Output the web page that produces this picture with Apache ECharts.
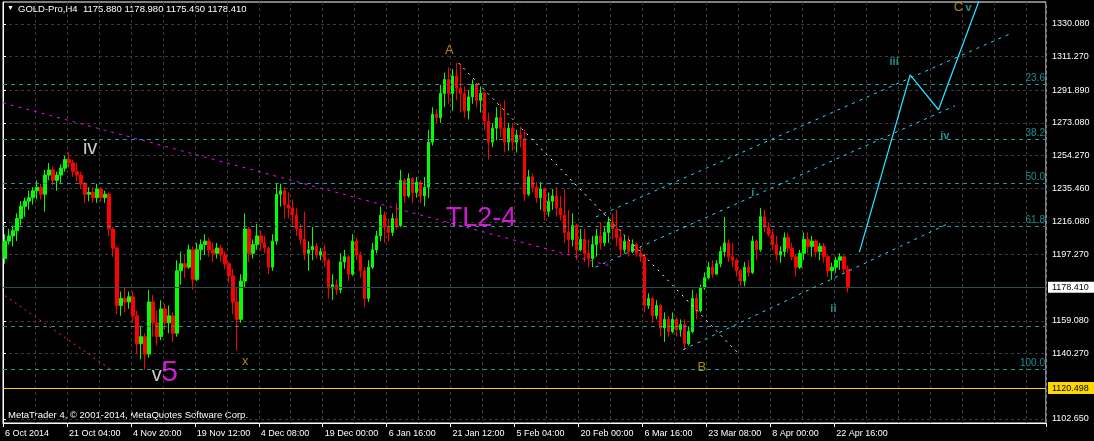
<!DOCTYPE html>
<html><head><meta charset="utf-8">
<script src="https://cdn.jsdelivr.net/npm/echarts@6/dist/echarts.min.js"></script>
<style>html,body{margin:0;padding:0;background:#000;}#c{width:1094px;height:441px;}</style>
</head><body><div id="c"></div><script>
// ---------- DATA ----------
const symbolTitle = 'GOLD-Pro,H4  1175.880 1178.980 1175.460 1178.410';
const copyrightText = 'MetaTrader 4, \u00A9 2001-2014, MetaQuotes Software Corp.';
const xTickLabels = ['6 Oct 2014','21 Oct 04:00','4 Nov 20:00','19 Nov 12:00','4 Dec 08:00','19 Dec 00:00','6 Jan 16:00','21 Jan 12:00','5 Feb 04:00','20 Feb 00:00','6 Mar 16:00','23 Mar 08:00','8 Apr 00:00','22 Apr 16:00'];
const yTicks = [1330.080,1311.270,1291.890,1273.080,1254.270,1235.460,1216.080,1197.270,1178.410,1159.080,1140.270,1120.498,1102.650];
const currentPrice = 1178.410;
const supportLevel = 1120.498;
// candles: [open, close, low, high], each = 4 H4 bars
const candles = [
[1195,1205,1192,1209],[1205,1208,1203,1212],[1208,1211,1202,1214],[1211,1218,1205,1221],[1218,1225,1214,1228],
[1225,1228,1219,1230],[1228,1230,1223,1234],[1230,1234,1226,1236],[1234,1236,1229,1240],[1236,1232,1229,1238],
[1232,1243,1222,1246],[1243,1246,1240,1250],[1246,1240,1237,1248],[1240,1243,1234,1245],[1243,1247,1238,1249],
[1247,1252,1245,1254],[1252,1250,1247,1256],[1250,1245,1242,1252],[1245,1243,1239,1250],[1243,1238,1235,1245],
[1238,1232,1227,1239],[1232,1233,1228,1236],[1233,1230,1227,1236],[1230,1235,1227,1238],[1235,1230,1228,1236],
[1230,1232,1227,1234],[1232,1212,1208,1233],[1212,1201,1196,1213],[1201,1168,1163,1202],[1168,1172,1162,1176],
[1172,1170,1164,1178],[1170,1173,1166,1176],[1173,1162,1158,1176],[1162,1146,1140,1165],[1146,1150,1137,1156],
[1150,1140,1131,1152],[1140,1170,1138,1177],[1170,1158,1150,1174],[1158,1150,1145,1165],[1150,1166,1148,1171],
[1166,1158,1154,1169],[1158,1162,1152,1168],[1162,1152,1147,1164],[1152,1188,1150,1194],[1188,1192,1180,1199],
[1192,1190,1184,1197],[1190,1200,1189,1203],[1200,1183,1177,1202],[1183,1200,1182,1204],[1200,1203,1194,1206],
[1203,1205,1197,1209],[1205,1200,1196,1207],[1200,1198,1193,1204],[1198,1201,1195,1204],[1201,1197,1193,1203],
[1197,1192,1189,1199],[1192,1185,1181,1193],[1185,1170,1163,1189],[1170,1160,1142,1178],[1160,1182,1158,1186],
[1182,1212,1178,1221],[1212,1198,1193,1213],[1198,1203,1195,1206],[1203,1208,1200,1215],[1208,1204,1200,1211],
[1204,1201,1198,1208],[1201,1190,1186,1202],[1190,1205,1188,1209],[1205,1232,1203,1238],[1232,1234,1225,1238],
[1234,1226,1218,1236],[1226,1224,1218,1233],[1224,1220,1214,1229],[1220,1212,1208,1224],[1212,1206,1203,1215],
[1206,1198,1194,1222],[1198,1200,1188,1205],[1200,1202,1194,1213],[1202,1197,1195,1204],[1197,1199,1194,1201],
[1199,1194,1190,1203],[1194,1178,1172,1195],[1178,1180,1171,1186],[1180,1177,1174,1183],[1177,1193,1175,1198],
[1193,1196,1189,1200],[1196,1186,1182,1197],[1186,1205,1185,1209],[1205,1197,1194,1207],[1197,1188,1184,1199],
[1188,1172,1167,1190],[1172,1190,1170,1194],[1190,1200,1189,1204],[1200,1208,1198,1211],[1208,1220,1205,1225],
[1220,1213,1204,1222],[1213,1210,1205,1218],[1210,1218,1208,1221],[1218,1214,1211.6,1227],[1214,1240,1213,1246],
[1240,1231,1227,1241],[1231,1241,1230,1244],[1241,1233,1227,1242],[1233,1239,1230,1242],[1239,1231,1227,1240],
[1231,1236,1225,1242],[1236,1262,1230,1269],[1262,1278,1260,1282],[1278,1276,1273,1281],[1276,1290,1273,1295],
[1290,1298,1282,1302],[1298,1290,1284,1305],[1290,1300,1280,1304],[1300,1293,1286,1307.6],[1293,1290,1279,1307],
[1290,1280,1276,1294],[1280,1288,1275,1292],[1288,1295,1284,1298],[1295,1286,1282,1296],[1286,1290,1279,1294],
[1290,1274,1269,1291],[1274,1262,1252,1279],[1262,1270,1259,1273],[1270,1276,1263,1282],[1276,1270,1265,1284],
[1270,1262,1256,1286],[1262,1270,1257,1273],[1270,1262,1257,1273],[1262,1266,1256,1269],[1266,1264,1259,1271],
[1264,1232,1228,1269],[1232,1242,1231,1246],[1242,1236,1233,1244],[1236,1230,1227,1239],[1230,1235,1223,1239],
[1235,1222,1217,1235.5],[1222,1228,1219,1233],[1228,1231,1223,1235],[1231,1224,1219,1236],[1224,1220,1217,1231],
[1220,1210,1204,1235],[1210,1206,1198,1223],[1206,1214,1202,1221],[1214,1200,1194,1215],[1200,1206,1199,1212],
[1206,1198,1193,1212],[1198,1195,1190,1206],[1195,1203,1190,1208],[1203,1208,1196,1212],[1208,1204,1200,1216],
[1204,1210,1202,1213],[1210,1216,1204,1219],[1216,1212,1206,1221],[1212,1207,1202,1223],[1207,1200,1196,1212],
[1200,1205,1198,1208],[1205,1199,1196,1208],[1199,1203,1198,1206],[1203,1198,1196,1204],[1198,1196,1193,1202],
[1196,1168,1164,1198],[1168,1172,1166,1175],[1172,1162,1158,1173],[1162,1168,1160,1171],[1168,1155,1150,1169],
[1155,1160,1147,1164],[1160,1153,1150,1162],[1153,1160,1152,1164],[1160,1154,1150,1161],[1154,1157,1150,1160],
[1157,1146,1142.5,1160],[1146,1153,1145,1156],[1153,1172,1152,1177],[1172,1165,1160,1175],[1165,1178,1164,1180],
[1178,1184,1177,1187],[1184,1190,1183,1193],[1190,1186,1184,1194],[1186,1192,1186,1194],[1192,1199,1190,1202],
[1199,1204,1196,1219],[1204,1196,1193,1206],[1196,1194,1190,1204],[1194,1188,1184.5,1195],[1188,1182,1179,1189],
[1182,1190,1179,1193],[1190,1187,1184.5,1194],[1187,1205,1186,1208],[1205,1200,1194,1206],[1200,1219,1199,1224],
[1219,1213,1210,1223],[1213,1209,1207.6,1216],[1209,1203,1200,1212],[1203,1197,1194,1208],[1197,1199,1192.6,1202],
[1199,1207,1196,1210],[1207,1201,1198,1210],[1201,1196,1194,1204],[1196,1190,1184.5,1197],[1190,1198,1189,1200],
[1198,1206,1194,1210],[1206,1202,1198,1210],[1202,1205,1196,1208],[1205,1199,1196,1206],[1199,1202,1194,1204],
[1202,1196,1192.6,1204],[1196,1188,1184.5,1197],[1188,1190,1182.8,1192.6],[1190,1194,1186.8,1196],[1194,1196,1188.5,1198],
[1196,1189,1186.8,1197],[1189,1178.41,1175.46,1191]
];
// drawn objects, [candle index, price]
const tl24Line      = [[0, 1284.6], [152.3, 1190.5]];
const redTrendLine  = [[0.5, 1173.6], [26.8, 1131.4]];
const abLine        = [[114, 1307.5], [183.9, 1140.6]];
const channelUpper  = [[148.4, 1218.9], [252.4, 1324.7]];
const channelMiddle = [[148.3, 1190.1], [238.2, 1282.9]];
const channelLower  = [[170.2, 1142.5], [236.8, 1215.4]];
const projection    = [[214.3, 1198.7], [227, 1300.7], [234.1, 1280.6], [246.2, 1355.4]];
const fibLabels = ['23.6','38.2','50.0','61.8','','100.0'];
const fibPrices = [1295.0, 1263.9, 1238.3, 1213.3, 1156.1, 1131.3];
// wave labels: [text, candle index, price]
const waveLabels = [
  ['iv', 21.8, 1258.5], ['v', 38.5, 1127.6], ['5', 41.7, 1129.0], ['x', 60.6, 1136.0],
  ['A', 111.7, 1314.8], ['TL2-4', 119.6, 1217.9], ['B', 174.9, 1132.6], ['i', 187.6, 1232.5],
  ['ii', 207.8, 1166.1], ['iii', 223.0, 1308.2], ['iv', 235.7, 1265.7], ['C', 239.1, 1339.3], ['v', 241.6, 1339.0]
];
const waveLabelKinds = ['white','white','magentaBig','gold','gold','magentaMid','gold','teal','teal','teal','teal','gold','teal'];

// ---------- STYLE ----------
const FONT = 'Liberation Sans, Arial, sans-serif';
const N = 261;
const labelStyles = {
  white: {color:'#ffffff', fontSize:20},
  magentaBig: {color:'#ff22ff', fontSize:30},
  magentaMid: {color:'#ff22ff', fontSize:27},
  gold: {color:'#e0a418', fontSize:13},
  teal: {color:'#26b8aa', fontSize:11, fontWeight:'bold'}
};
const categories = [];
for (let i = 0; i < N; i++) categories.push(i % 16 === 0 && i / 16 < xTickLabels.length ? xTickLabels[i / 16] : '');

function seg(data, color, type, width) {
  return {type:'line', xAxisIndex:1, yAxisIndex:0, data:data, symbol:'none', silent:true, clip:true,
          lineStyle:{color:color, type:type, width:width || 1}, z:5, animation:false};
}

const markLines = fibPrices.map((p, i) => ({
  yAxis: p,
  lineStyle: {color:'#1e9898', type:[4,4], width:1},
  label: {show: fibLabels[i] !== '', formatter: fibLabels[i], position:'insideEndTop', color:'#1c9090', fontSize:10, fontFamily:FONT, distance:1}
}));
markLines.push({yAxis: currentPrice, lineStyle:{color:'#2f4f4f', type:'solid', width:1}, label:{show:false}});
markLines.push({yAxis: supportLevel, lineStyle:{color:'#ffcc00', type:'solid', width:1}, label:{show:false}});

const chart = echarts.init(document.getElementById('c'), null, {renderer:'canvas'});
chart.setOption({
  animation:false,
  backgroundColor:'#000000',
  grid:{left:3, right:48, top:2, bottom:18, show:true, borderColor:'#ffffff', borderWidth:1, backgroundColor:'#000000',
        containLabel:false, outerBoundsMode:'none'},
  xAxis:[{
    type:'category', data:categories, boundaryGap:true,
    axisLine:{show:true, lineStyle:{color:'#ffffff'}},
    axisTick:{show:true, interval:(i, v) => v !== '', length:4, lineStyle:{color:'#ffffff'}},
    axisLabel:{interval:(i, v) => v !== '', align:'left', color:'#ffffff', fontSize:9, fontFamily:FONT, margin:6},
    splitLine:{show:true, interval:7, lineStyle:{color:'#3a3a3a', type:[3,3]}}
  },{
    type:'value', min:0, max:N, show:false
  }],
  yAxis:[{
    type:'value', position:'right', min:1100.35, max:1342.6, scale:true,
    axisLine:{show:true, lineStyle:{color:'#ffffff'}},
    axisTick:{show:true, length:3, customValues:yTicks, lineStyle:{color:'#ffffff'}},
    axisLabel:{customValues:yTicks, margin:2, fontFamily:FONT,
      formatter:(v) => {
        const s = v.toFixed(3);
        if (Math.abs(v - currentPrice) < 1e-6) return '{cur|' + s + '}';
        if (Math.abs(v - supportLevel) < 1e-6) return '{lvl|' + s + '}';
        return '{n|' + s + '}';
      },
      rich:{
        n:{color:'#ffffff', fontSize:9, fontFamily:FONT, padding:[1,5,1,4]},
        cur:{color:'#000000', backgroundColor:'#ffffff', fontSize:9, fontFamily:FONT, padding:[1,6,1,4]},
        lvl:{color:'#000000', backgroundColor:'#ffd700', fontSize:9, fontFamily:FONT, padding:[2,6,1,4]}
      }
    },
    splitLine:{show:true, lineStyle:{color:'#3a3a3a', type:[3,3]}}
  }],
  series:[
    {type:'candlestick', xAxisIndex:0, yAxisIndex:0, data:candles, barWidth:3, z:3, silent:true,
     itemStyle:{color:'#00ff00', color0:'#ff0000', borderColor:'#00ff00', borderColor0:'#ff0000', borderWidth:1},
     markLine:{symbol:'none', silent:true, animation:false, data:markLines}},
    seg(tl24Line, '#ff00ff', [3,5]),
    seg(redTrendLine, '#ff2a2a', [2,4]),
    seg(abLine, '#ffffff', [2,5]),
    seg(channelUpper, '#22e0ff', [3,5]),
    seg(channelMiddle, '#22e0ff', [3,5]),
    seg(channelLower, '#22e0ff', [3,5]),
    seg(projection, '#22e0ff', 'solid', 1.3),
    {type:'scatter', xAxisIndex:1, yAxisIndex:0, symbolSize:0, silent:true, z:6, clip:false,
     data: waveLabels.map((w, i) => ({
       value:[w[1], w[2]],
       label:Object.assign({show:true, position:'inside', formatter:w[0], fontFamily:FONT}, labelStyles[waveLabelKinds[i]])
     }))}
  ],
  graphic:[
    {type:'text', left:7, top:5, style:{text:'\u25BC', fill:'#ffffff', font:'7px ' + FONT}},
    {type:'text', left:18, top:4, style:{text:symbolTitle, fill:'#ffffff', font:'9.5px ' + FONT}},
    {type:'text', left:8, top:410, style:{text:copyrightText, fill:'#ffffff', font:'9.5px ' + FONT}}
  ]
});
</script></body></html>
